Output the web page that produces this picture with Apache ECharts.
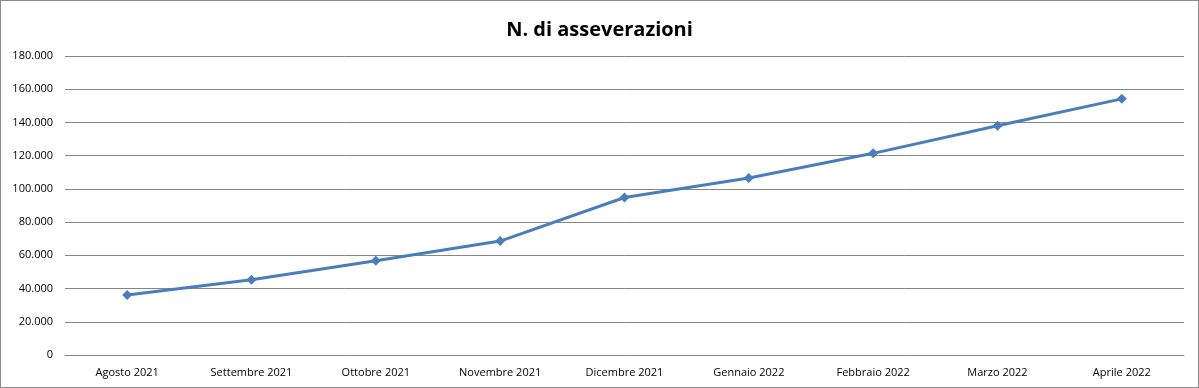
<!DOCTYPE html>
<html><head><meta charset="utf-8">
<script src="https://cdn.jsdelivr.net/npm/echarts@6/dist/echarts.min.js"></script>
<style>html,body{margin:0;padding:0;background:#fff}#c{width:1199px;height:388px;box-sizing:border-box;border:1px solid #8c8c8c}</style>
</head><body><div id="c"></div>
<script>
const categories = ['Agosto 2021','Settembre 2021','Ottobre 2021','Novembre 2021','Dicembre 2021','Gennaio 2022','Febbraio 2022','Marzo 2022','Aprile 2022'];
const values = [36100, 45300, 56700, 68600, 94800, 106600, 121400, 138000, 154200];
const chart = echarts.init(document.getElementById('c'));
chart.setOption({
  animation: false,
  title: { text: 'N. di asseverazioni', left: 'center', top: 14,
    textStyle: { fontFamily: 'Open Sans', fontWeight: 'bold', fontSize: 20, color: '#000' } },
  grid: { left: 64, right: 14, top: 55, bottom: 32 },
  xAxis: { type: 'category', data: categories, boundaryGap: true,
    axisLine: { show: true, lineStyle: { color: '#868686' } }, axisTick: { show: false },
    axisLabel: { color: '#000', fontFamily: 'Open Sans', fontSize: 11, margin: 12, interval: 0 } },
  yAxis: { type: 'value', min: 0, max: 180000, interval: 20000,
    axisLine: { show: false }, axisTick: { show: false },
    splitLine: { lineStyle: { color: '#868686', width: 1 } },
    axisLabel: { color: '#000', fontFamily: 'Open Sans', fontSize: 11, margin: 12,
      formatter: v => v === 0 ? '0' : String(v).replace(/\B(?=(\d{3})+(?!\d))/g, '.') } },
  series: [{ type: 'line', data: values, symbol: 'diamond', symbolSize: 10,
    lineStyle: { color: '#4a7ebb', width: 3 }, itemStyle: { color: '#4a7ebb' } }]
});
</script></body></html>
